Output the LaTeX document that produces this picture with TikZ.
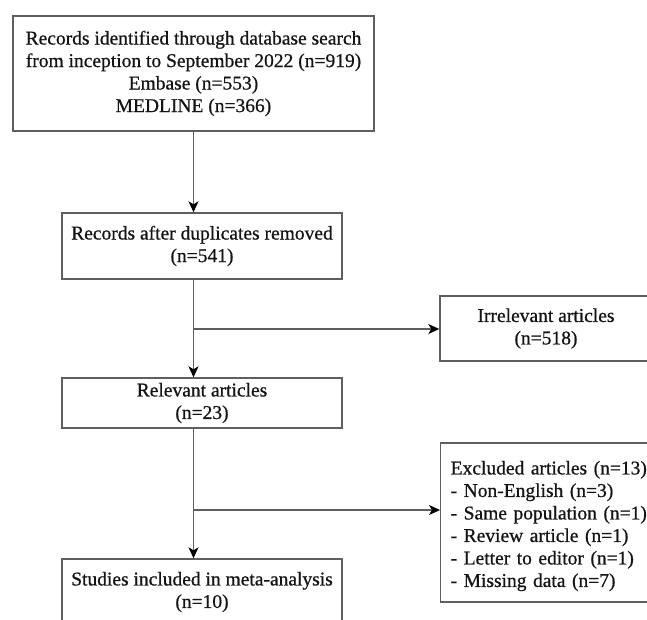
\documentclass[tikz,border=0pt]{standalone}
\usepackage{fontspec}
\setmainfont{Liberation Serif}[FakeBold=0.7]
\usetikzlibrary{arrows.meta}
\definecolor{linegray}{RGB}{95,95,95}
\definecolor{txt}{RGB}{20,20,20}
\begin{document}
\begin{tikzpicture}[x=1pt,y=-1pt,
  box/.style={draw=linegray, line width=1.4pt, rectangle, inner sep=0pt, align=center,
    text=txt, font=\fontsize{19.5}{22.5}\selectfont,
    execute at begin node={\rule{0pt}{20.6pt}}},
  arr/.style={draw=linegray, line width=1.4pt, -{Stealth[length=11pt,width=10pt,inset=3pt,color=black]}}]
\useasboundingbox (0,0) rectangle (647,619);
\clip (0,0) rectangle (647,619);
\fill[white] (0,0) rectangle (647,619);

\node[box, minimum width=361pt, minimum height=115pt] (top) at (193.5,73.5)
  {Records identified through database search\\ from inception to September 2022 (n=919)\\ Embase (n=553)\\ MEDLINE (n=366)};
\node[box, minimum width=280pt, minimum height=66pt] (dup) at (202,246)
  {Records after duplicates removed\\ (n=541)};
\node[box, minimum width=212pt, minimum height=65pt] (irr) at (546,328.5)
  {Irrelevant articles\\ (n=518)};
\node[box, minimum width=280pt, minimum height=50pt] (rel) at (202,403)
  {Relevant articles\\ (n=23)};
\node[box, anchor=west, align=left, text width=200pt, inner xsep=10pt, minimum height=159pt] (exc) at (440,522.5)
  {Excluded articles (n=13)\\ - Non-English (n=3)\\ - Same population (n=1)\\ - Review article (n=1)\\ - Letter to editor (n=1)\\ - Missing data (n=7)};
\node[box, minimum width=280pt, minimum height=66pt] (stu) at (202,592)
  {Studies included in meta-analysis\\ (n=10)};

\coordinate (b1) at (193.5,329);
\coordinate (b2) at (193.5,510);

\draw[arr] (top.south) -- (top.south |- dup.north);
\draw[arr] (top.south |- dup.south) -- (top.south |- rel.north);
\draw[arr] (b1) -- (b1 -| irr.west);
\draw[arr] (top.south |- rel.south) -- (top.south |- stu.north);
\draw[arr] (b2) -- (b2 -| exc.west);
\end{tikzpicture}
\end{document}
